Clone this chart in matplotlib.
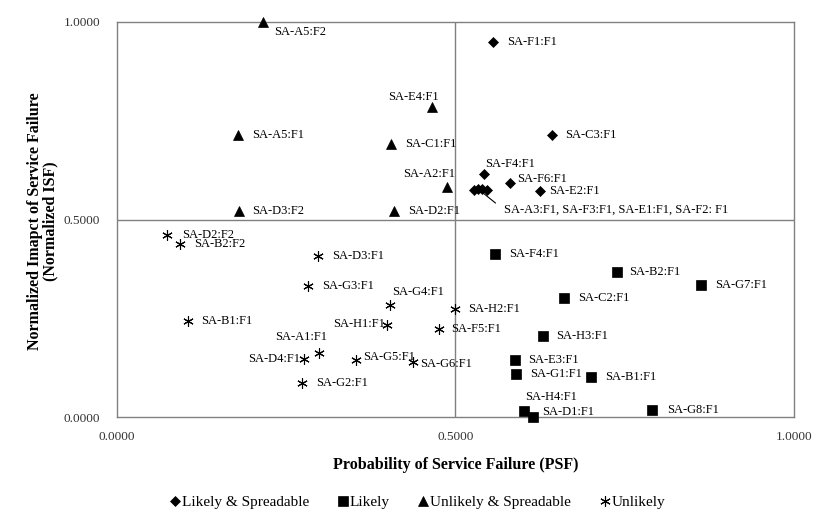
import matplotlib
matplotlib.use('Agg')
import matplotlib.pyplot as plt
from matplotlib.lines import Line2D

plt.rcParams['font.family'] = ['Liberation Serif', 'DejaVu Serif']

# Likely & Spreadable (diamonds)
ls_names = ['SA-F1:F1', 'SA-C3:F1', 'SA-F4:F1', 'SA-F6:F1', 'SA-E2:F1',
            'SA-A3:F1', 'SA-F3:F1', 'SA-E1:F1', 'SA-F2:F1']
ls_psf = [0.556, 0.642, 0.542, 0.581, 0.625, 0.527, 0.533, 0.539, 0.546]
ls_isf = [0.948, 0.714, 0.615, 0.592, 0.572, 0.575, 0.578, 0.578, 0.574]

# Likely (squares)
lk_names = ['SA-F4:F1', 'SA-B2:F1', 'SA-G7:F1', 'SA-C2:F1', 'SA-H3:F1', 'SA-E3:F1',
            'SA-G1:F1', 'SA-B1:F1', 'SA-H4:F1', 'SA-D1:F1', 'SA-G8:F1']
lk_psf = [0.558, 0.738, 0.863, 0.660, 0.629, 0.588, 0.590, 0.700, 0.602, 0.615, 0.791]
lk_isf = [0.412, 0.367, 0.334, 0.302, 0.206, 0.144, 0.109, 0.101, 0.015, 0.0, 0.019]

# Unlikely & Spreadable (triangles)
us_names = ['SA-A5:F2', 'SA-E4:F1', 'SA-A5:F1', 'SA-C1:F1', 'SA-A2:F1', 'SA-D3:F2', 'SA-D2:F1']
us_psf = [0.216, 0.466, 0.179, 0.405, 0.488, 0.180, 0.409]
us_isf = [1.0, 0.784, 0.714, 0.691, 0.581, 0.521, 0.521]

# Unlikely (asterisks)
un_names = ['SA-D2:F2', 'SA-B2:F2', 'SA-D3:F1', 'SA-G3:F1', 'SA-G4:F1', 'SA-B1:F1', 'SA-H1:F1',
            'SA-A1:F1', 'SA-D4:F1', 'SA-G5:F1', 'SA-G6:F1', 'SA-G2:F1', 'SA-H2:F1', 'SA-F5:F1']
un_psf = [0.074, 0.093, 0.297, 0.283, 0.403, 0.106, 0.399, 0.298, 0.276, 0.353, 0.437, 0.273, 0.499, 0.476]
un_isf = [0.462, 0.437, 0.408, 0.333, 0.284, 0.244, 0.233, 0.163, 0.147, 0.145, 0.141, 0.086, 0.273, 0.223]

cluster_label = 'SA-A3:F1, SA-F3:F1, SA-E1:F1, SA-F2: F1'

# label placement: (dx, dy, ha) in pixels relative to the marker
ls_off = [(14, 0, 'left'), (14, 0, 'left'), (1, 10, 'left'), (7, 4, 'left'), (9, 0, 'left'),
          None, None, None, None]
lk_off = [(14, 0, 'left'), (13, 0, 'left'), (14, 0, 'left'), (14, 0, 'left'), (13, 0, 'left'),
          (13, 0, 'left'), (14, 0, 'left'), (14, 0, 'left'), (1, 14, 'left'), (9, 5, 'left'),
          (15, 0, 'left')]
us_off = [(11, -10, 'left'), (6, 10, 'right'), (14, 0, 'left'), (14, 0, 'left'), (8, 13, 'right'),
          (14, 0, 'left'), (14, 0, 'left')]
un_off = [(15, 0, 'left'), (14, 0, 'left'), (14, 0, 'left'), (14, 0, 'left'), (2, 13, 'left'),
          (13, 0, 'left'), (-2, 1, 'right'), (9, 16, 'right'), (-3, 0, 'right'), (7, 3, 'left'),
          (7, -2, 'left'), (15, 0, 'left'), (13, 0, 'left'), (12, 0, 'left')]

fig = plt.figure(figsize=(8.31, 5.31), dpi=100)
ax = fig.add_axes([0.1404, 0.2141, 0.8151, 0.7450])

ast = (6, 2, 0)
groups = [
    ('Likely & Spreadable', ls_names, ls_psf, ls_isf, ls_off, 'D', 4.8),
    ('Likely', lk_names, lk_psf, lk_isf, lk_off, 's', 7.2),
    ('Unlikely & Spreadable', us_names, us_psf, us_isf, us_off, '^', 7.7),
    ('Unlikely', un_names, un_psf, un_isf, un_off, ast, 7.5),
]

handles = []
for label, names, xs, ys, offs, mk, ms in groups:
    ax.plot(xs, ys, linestyle='none', marker=mk, markersize=ms, color='black',
            markeredgewidth=0.8 if mk == ast else 0.5, clip_on=False, zorder=3)
    for n, x, y, off in zip(names, xs, ys, offs):
        if off is None:
            continue
        dx, dy, ha = off
        ax.annotate(n, (x, y), xytext=(dx, dy), textcoords='offset pixels',
                    ha=ha, va='center', fontsize=9, color='black')
    handles.append(Line2D([], [], linestyle='none', marker=mk, color='black',
                          markersize=ms, markeredgewidth=0.8 if mk == ast else 0.5,
                          label=label))

# leader line for the overlapping cluster
ax.annotate(cluster_label, (ls_psf[6], ls_isf[6]), xytext=(26, -21), textcoords='offset pixels',
            ha='left', va='center', fontsize=9,
            arrowprops=dict(arrowstyle='-', color='black', lw=0.8, relpos=(0, 0.5),
                            shrinkA=5, shrinkB=3))

ax.axvline(0.5, color='#808080', lw=1, zorder=1)
ax.axhline(0.5, color='#808080', lw=1, zorder=1)

ax.set_xlim(0, 1)
ax.set_ylim(0, 1)
ax.set_xticks([0, 0.5, 1])
ax.set_yticks([0, 0.5, 1])
ax.set_xticklabels(['0.0000', '0.5000', '1.0000'])
ax.set_yticklabels(['0.0000', '0.5000', '1.0000'])
ax.tick_params(length=0, labelsize=9.5, labelcolor='#333333')
ax.tick_params(axis='y', pad=12)
ax.tick_params(axis='x', pad=10)
for s in ax.spines.values():
    s.set_color('#808080')
    s.set_linewidth(1)

ax.set_xlabel('Probability of Service Failure (PSF)', fontsize=11.5, fontweight='bold', va='center')
ax.xaxis.set_label_coords(0.501, -0.121)
ax.set_ylabel('Normalized Imapct of Service Failure\n(Normalized ISF)', fontsize=11.5,
              fontweight='bold', va='center', linespacing=0.95)
ax.yaxis.set_label_coords(-0.109, 0.497)

fig.legend(handles=handles, loc='center', bbox_to_anchor=(0.503, 0.0546), ncol=4,
           frameon=False, fontsize=11, handlelength=0.6, handletextpad=0.15,
           columnspacing=1.9)

fig.savefig('out.png', dpi=100)
